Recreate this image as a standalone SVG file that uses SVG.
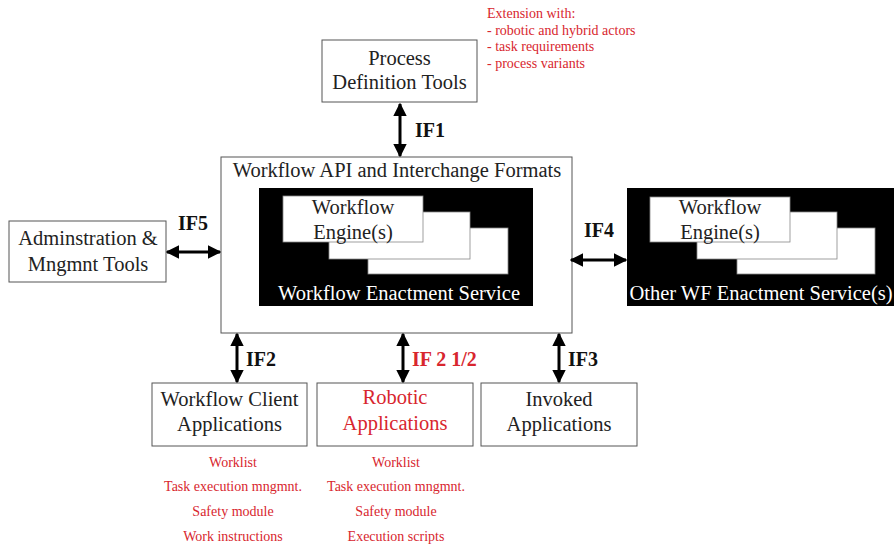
<svg xmlns="http://www.w3.org/2000/svg" width="894" height="551" viewBox="0 0 894 551">
  <style>
    .box { fill: #fff; stroke: #555; stroke-width: 1; }
    .blk { fill: #000; }
    .eng { fill: #fff; stroke: #888; stroke-width: 0.8; }
    .t { font-family: "Liberation Serif", "Times New Roman", serif; font-size: 20.5px; fill: #222; text-anchor: middle; }
    .tw { font-family: "Liberation Serif", "Times New Roman", serif; font-size: 20.5px; fill: #fff; text-anchor: middle; }
    .red { font-family: "Liberation Serif", "Times New Roman", serif; font-size: 20.5px; fill: #d8262e; text-anchor: middle; }
    .note { font-family: "Liberation Serif", "Times New Roman", serif; font-size: 14px; fill: #d8262e; }
    .notec { font-family: "Liberation Serif", "Times New Roman", serif; font-size: 14px; fill: #d8262e; text-anchor: middle; }
    .lbl { font-family: "Liberation Serif", "Times New Roman", serif; font-size: 20px; font-weight: bold; fill: #111; }
    .lblr { font-family: "Liberation Serif", "Times New Roman", serif; font-size: 20px; font-weight: bold; fill: #d8262e; }
    .arr { stroke: #000; stroke-width: 3; fill: none; marker-start: url(#head); marker-end: url(#head); }
  </style>
  <defs>
    <marker id="head" viewBox="0 0 10 10" refX="9" refY="5" markerWidth="4.5" markerHeight="4.5" markerUnits="strokeWidth" orient="auto-start-reverse">
      <path d="M0,0 L10,5 L0,10 Z" fill="#000"/>
    </marker>
  </defs>

  <!-- Extension note -->
  <g id="extension-note">
    <text class="note" x="487" y="18">Extension with:</text>
    <text class="note" x="487" y="35">- robotic and hybrid actors</text>
    <text class="note" x="487" y="51">- task requirements</text>
    <text class="note" x="487" y="68">- process variants</text>
  </g>

  <g id="process-definition-tools">
    <rect class="box" x="322" y="40" width="155" height="62"/>
    <text class="t" x="399.5" y="65">Process</text>
    <text class="t" x="399.5" y="89">Definition Tools</text>
  </g>

  <g id="workflow-api">
    <rect class="box" x="221" y="157" width="351" height="176"/>
    <text class="t" x="397" y="177">Workflow API and Interchange Formats</text>
  </g>

  <g id="workflow-enactment-service">
    <rect class="blk" x="259" y="188" width="274" height="118"/>
    <rect class="eng" x="368" y="228" width="140" height="46"/>
    <rect class="eng" x="329" y="212" width="141" height="47"/>
    <rect class="eng" x="283" y="196" width="140" height="46"/>
    <text class="t" x="353" y="214">Workflow</text>
    <text class="t" x="353" y="239">Engine(s)</text>
    <text class="tw" x="399" y="300">Workflow Enactment Service</text>
  </g>

  <g id="other-enactment-services">
    <rect class="blk" x="627" y="188" width="267" height="118"/>
    <rect class="eng" x="737" y="228" width="138" height="46"/>
    <rect class="eng" x="697" y="212" width="140" height="47"/>
    <rect class="eng" x="650" y="197" width="140" height="45"/>
    <text class="t" x="720" y="214">Workflow</text>
    <text class="t" x="720" y="239">Engine(s)</text>
    <text class="tw" x="761" y="300">Other WF Enactment Service(s)</text>
  </g>

  <g id="admin-tools">
    <rect class="box" x="9" y="221" width="157" height="61"/>
    <text class="t" x="88" y="245">Adminstration &amp;</text>
    <text class="t" x="88" y="271">Mngmnt Tools</text>
  </g>

  <g id="workflow-client-applications">
    <rect class="box" x="152" y="383" width="155" height="63"/>
    <text class="t" x="229.5" y="406">Workflow Client</text>
    <text class="t" x="229.5" y="431">Applications</text>
    <text class="notec" x="233" y="467">Worklist</text>
    <text class="notec" x="233" y="491">Task execution mngmnt.</text>
    <text class="notec" x="233" y="516">Safety module</text>
    <text class="notec" x="233" y="541">Work instructions</text>
  </g>

  <g id="robotic-applications">
    <rect class="box" x="317" y="383" width="156" height="63"/>
    <text class="red" x="395" y="404">Robotic</text>
    <text class="red" x="395" y="430">Applications</text>
    <text class="notec" x="396" y="467">Worklist</text>
    <text class="notec" x="396" y="491">Task execution mngmnt.</text>
    <text class="notec" x="396" y="516">Safety module</text>
    <text class="notec" x="396" y="541">Execution scripts</text>
  </g>

  <g id="invoked-applications">
    <rect class="box" x="481" y="383" width="156" height="63"/>
    <text class="t" x="559" y="406">Invoked</text>
    <text class="t" x="559" y="431">Applications</text>
  </g>

  <!-- interface connectors -->
  <g id="connectors">
    <line class="arr" x1="400" y1="104" x2="400" y2="156"/>
    <line class="arr" x1="167" y1="252" x2="220" y2="252"/>
    <line class="arr" x1="571" y1="260" x2="626" y2="260"/>
    <line class="arr" x1="237" y1="334" x2="237" y2="382"/>
    <line class="arr" x1="403" y1="334" x2="403" y2="382"/>
    <line class="arr" x1="559" y1="334" x2="559" y2="382"/>
    <text class="lbl" x="415" y="137">IF1</text>
    <text class="lbl" x="178" y="230">IF5</text>
    <text class="lbl" x="584" y="237">IF4</text>
    <text class="lbl" x="246" y="366">IF2</text>
    <text class="lblr" x="412" y="366">IF 2 1/2</text>
    <text class="lbl" x="568" y="366">IF3</text>
  </g>
</svg>
